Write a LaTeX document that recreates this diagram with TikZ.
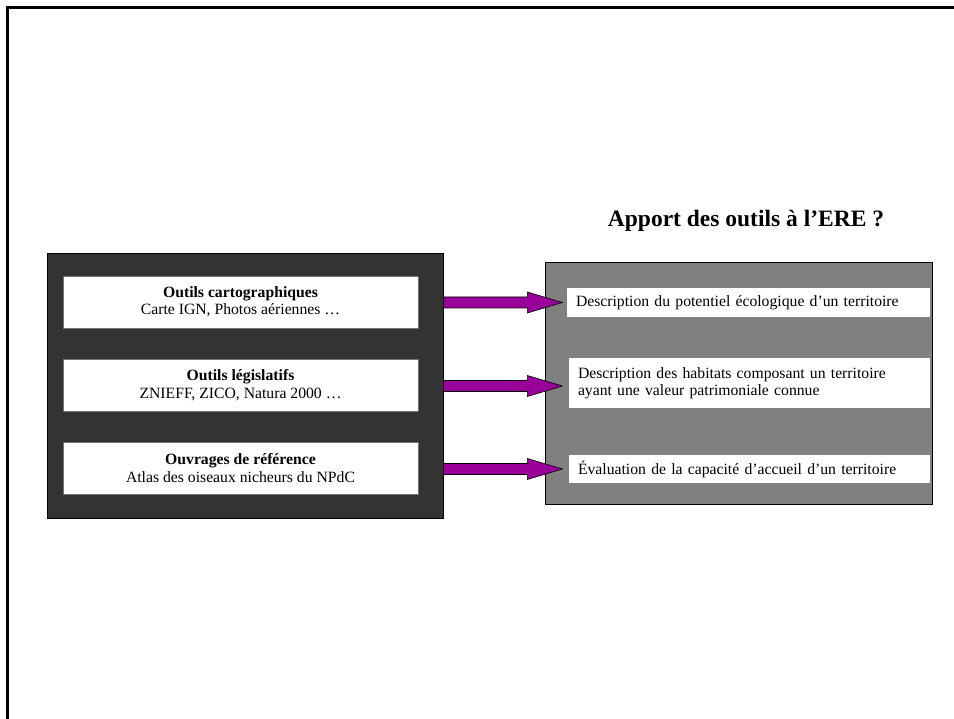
\documentclass[tikz,border=0pt]{standalone}
\usepackage{fontspec}
\setmainfont{Liberation Serif}
\usetikzlibrary{calc}
\definecolor{darkpanel}{HTML}{333333}
\definecolor{greypanel}{HTML}{808080}
\definecolor{arrowpurple}{HTML}{990099}
\tikzset{
  darkbox/.style={draw=black, line width=0.8pt, fill=darkpanel, inner sep=0pt},
  greybox/.style={draw=black, line width=0.8pt, fill=greypanel, inner sep=0pt},
  toolbox/.style={draw=black!55, line width=0.6pt, fill=white, minimum width=355pt, minimum height=52pt,
    inner sep=0pt, align=center, font=\fontsize{15.7}{17.5}\selectfont},
  resbox/.style={fill=white, inner xsep=9pt, inner ysep=0pt, align=left,
    font=\fontsize{15.7}{17.5}\selectfont},
  fatarrow/.style={draw=black, line width=0.6pt, fill=arrowpurple, line join=miter},
  titletext/.style={font=\fontsize{23.5}{27}\selectfont\bfseries, inner sep=0pt}
}
\newcommand\fatarrow[1]{%
  \draw[fatarrow] ($(#1)+(0,-5.5)$) -- ++(84,0) -- ++(0,-5) -- ++(35,10.5)
    -- ++(-35,10.5) -- ++(0,-5) -- ++(-84,0) -- cycle;}
\begin{document}
\begin{tikzpicture}[x=1pt,y=-1pt]
\useasboundingbox (0,0) rectangle (954,719);
% page frame
\coordinate (fbl) at (7,719);
\coordinate (ftl) at (7,8);
\coordinate (ftr) at (954,8);
\draw[line width=3pt] (fbl) -- (ftl) -- (ftr);

% title
\node[titletext] (title) at (746,221) {Apport des outils à l’ERE ?};

% left panel
\node[darkbox, minimum width=396pt, minimum height=265pt] (dark) at (245,385.5) {};
\node[toolbox] (t1) at (240.5,302) {\textbf{Outils cartographiques}\\Carte IGN, Photos aériennes …};
\node[toolbox] (t2) at (240.5,385) {\textbf{Outils législatifs}\\ZNIEFF, ZICO, Natura 2000 …};
\node[toolbox] (t3) at (240.5,468) {\textbf{Ouvrages de référence}\\Atlas des oiseaux nicheurs du NPdC};

% right panel
\node[greybox, minimum width=387pt, minimum height=242pt] (grey) at (738.5,383) {};
\node[resbox, text width=345pt, minimum height=29pt] (r1) at (748.5,302.5)
  {Description du potentiel écologique d’un territoire};
\node[resbox, text width=343pt, minimum height=50pt] (r2) at (749.5,383)
  {Description des habitats composant un territoire\\ayant une valeur patrimoniale connue};
\node[resbox, text width=343pt, minimum height=28pt] (r3) at (749.5,469)
  {Évaluation de la capacité d’accueil d’un territoire};

% arrows from left panel to the result boxes
\coordinate (s1) at (dark.east |- r1.west);
\coordinate (s2) at ($(dark.east |- r2.west)+(0,3)$);
\coordinate (s3) at (dark.east |- r3.west);
\fatarrow{s1}
\fatarrow{s2}
\fatarrow{s3}
\end{tikzpicture}
\end{document}
